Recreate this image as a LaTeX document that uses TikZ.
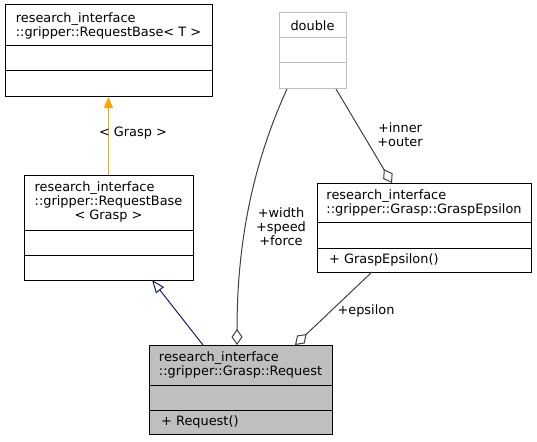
\documentclass[tikz,border=0pt]{standalone}
\usepackage{fontspec}
\setmainfont{DejaVu Sans}
\usetikzlibrary{arrows.meta,positioning,calc}
\definecolor{grey75}{HTML}{BFBFBF}
\definecolor{grey25}{HTML}{404040}
\definecolor{midblue}{HTML}{191970}
\definecolor{doxorange}{HTML}{FFA500}
\newcommand{\dvfont}{\fontsize{12.9}{14}\selectfont}
\tikzstyle{cls}=[draw=black,fill=white,inner sep=0pt,outer sep=0pt,line width=1pt,font=\dvfont,align=left]
\tikzstyle{opsbox}=[cls,inner xsep=12pt]
\tikzstyle{lbl}=[font=\dvfont,align=center,inner sep=0pt]
\tikzstyle{inh}=[draw=doxorange,line width=1pt,-{Triangle[length=11pt,width=9pt]}]
\tikzstyle{pub}=[draw=midblue,line width=1pt,-{Triangle[open,length=13pt,width=10pt]}]
\tikzstyle{mem}=[draw=grey25,line width=1pt,-{Diamond[open,length=16pt,width=11pt]}]

\begin{document}
\begin{tikzpicture}[x=1pt,y=-1pt]
	\useasboundingbox (0,0) rectangle (537,441);
	% RequestBase< T >
	\node[cls,minimum width=207pt,minimum height=41pt] (basettl) at (108.5,25.5) {research\_interface\\::gripper::RequestBase< T >};
	\node[cls,minimum width=207pt,minimum height=25pt,below=0pt of basettl] (baseattr) {};
	\node[cls,minimum width=207pt,minimum height=26pt,below=0pt of baseattr] (baseops) {};
	% RequestBase< Grasp >
	\node[cls,minimum width=169pt,minimum height=55pt] (bgttl) at (108.5,202.5) {\begin{tabular}{@{}l@{}}research\_interface\\::gripper::RequestBase\\\multicolumn{1}{@{}c@{}}{< Grasp >}\end{tabular}};
	\node[cls,minimum width=169pt,minimum height=25pt,below=0pt of bgttl] (bgattr) {};
	\node[cls,minimum width=169pt,minimum height=25pt,below=0pt of bgattr] (bgops) {};
	% double
	\node[cls,draw=grey75,minimum width=67pt,minimum height=25pt] (dblttl) at (312.5,25.5) {double};
	\node[cls,draw=grey75,minimum width=67pt,minimum height=25pt,below=0pt of dblttl] (dblattr) {};
	\node[cls,draw=grey75,minimum width=67pt,minimum height=26pt,below=0pt of dblattr] (dblops) {};
	% GraspEpsilon
	\node[cls,minimum width=214pt,minimum height=39pt] (epsttl) at (424,202.5) {research\_interface\\::gripper::Grasp::GraspEpsilon};
	\node[cls,minimum width=214pt,minimum height=26pt,below=0pt of epsttl] (epsattr) {};
	\node[opsbox,minimum width=214pt,minimum height=24pt,text width=190pt,below=0pt of epsattr] (epsops) {+ GraspEpsilon()};
	% Request
	\node[cls,fill=grey75,minimum width=183pt,minimum height=40pt] (reqttl) at (240.5,365) {research\_interface\\::gripper::Grasp::Request};
	\node[cls,fill=grey75,minimum width=183pt,minimum height=25pt,below=0pt of reqttl] (reqattr) {};
	\node[opsbox,fill=grey75,minimum width=183pt,minimum height=24pt,text width=159pt,below=0pt of reqattr] (reqops) {+ Request()};

	% inheritance
	\draw[inh] (bgttl.north) -- (baseops.south);
	\node[lbl] (lgrasp) at (133,133) {< Grasp >};
	\draw[pub] ($(reqttl.north west)+(54,0)$) -- ($(bgops.south west)+(128,0)$);
	% members
	\draw[mem] ($(dblops.south west)+(8,0)$) .. controls (250,170) and (237,250) .. ($(reqttl.north west)+(88,0)$);
	\node[lbl] (lwidth) at (281,227) {+width\\+speed\\+force};
	\draw[mem] ($(dblops.south west)+(57,0)$) -- ($(epsttl.north west)+(75,0)$);
	\node[lbl] (linner) at (400,135) {+inner\\+outer};
	\draw[mem] ($(epsops.south west)+(55,0)$) -- ($(reqttl.north west)+(146,0)$);
	\node[lbl] (leps) at (366,311) {+epsilon};
\end{tikzpicture}
\end{document}
